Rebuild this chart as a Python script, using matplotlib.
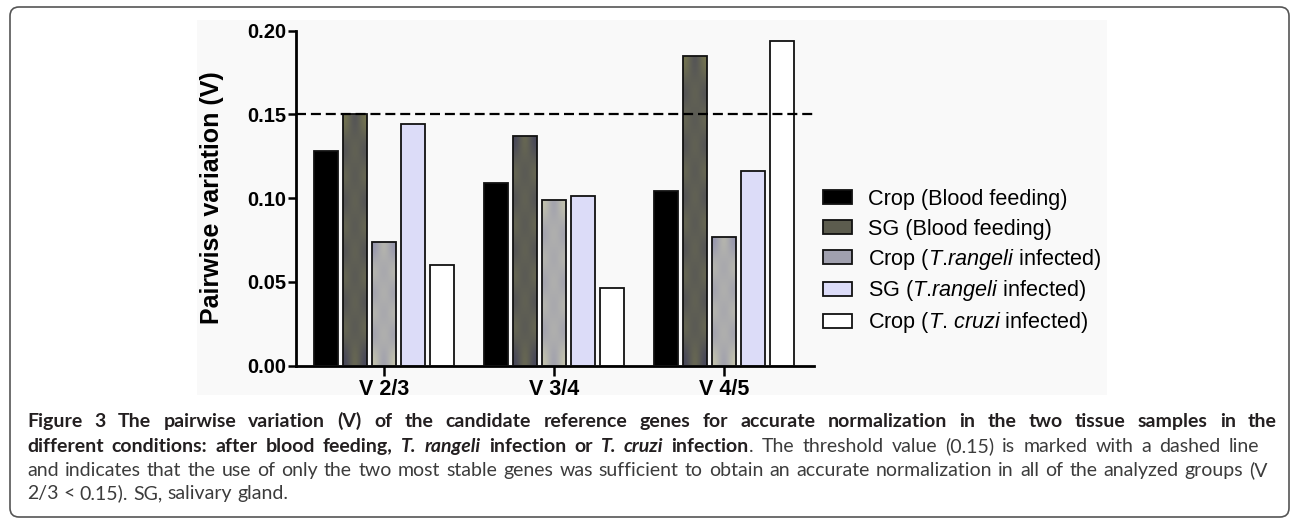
import numpy as np
import matplotlib
matplotlib.use("Agg")
import matplotlib.pyplot as plt
from matplotlib import font_manager
from matplotlib.patches import Patch, Rectangle, FancyBboxPatch
from matplotlib.transforms import IdentityTransform
from matplotlib.colors import LinearSegmentedColormap
from matplotlib.legend_handler import HandlerPatch

# data
groups = ["V 2/3", "V 3/4", "V 4/5"]
series = ["Crop (Blood feeding)", "SG (Blood feeding)",
          r"Crop ($\it{T}$.$\it{rangeli}$ infected)", r"SG ($\it{T}$.$\it{rangeli}$ infected)",
          r"Crop ($\it{T}$. $\it{cruzi}$ infected)"]
crop_blood = [0.128, 0.109, 0.104]
sg_blood = [0.150, 0.137, 0.185]
crop_rangeli = [0.074, 0.099, 0.077]
sg_rangeli = [0.144, 0.101, 0.116]
crop_cruzi = [0.060, 0.046, 0.194]
threshold = 0.15
yticks = [0.00, 0.05, 0.10, 0.15, 0.20]

plt.rcParams['font.family'] = ['Liberation Sans', 'DejaVu Sans']
plt.rcParams['mathtext.fontset'] = 'custom'
plt.rcParams['mathtext.rm'] = 'Liberation Sans'
plt.rcParams['mathtext.it'] = 'Liberation Sans:italic'

W, H = 1292, 520
fig = plt.figure(figsize=(W / 100, H / 100), dpi=100)

# faint grey backdrop behind the chart image and outer rounded frame
fig.patches.append(Rectangle((197 / W, 1 - 395 / H), (1107 - 197) / W, (395 - 20) / H,
                             transform=fig.transFigure, fc='#f9f9f9', ec='none', zorder=-5))
fig.patches.append(FancyBboxPatch((10, 3), 1279, 510, boxstyle='round,pad=0,rounding_size=9',
                                  transform=IdentityTransform(), fill=False, ec='#555555', lw=1.2))

ax = fig.add_axes([296 / W, 1 - 365.5 / H, 517.5 / W, 335 / H])
ax.set_facecolor('none')

values = [crop_blood, sg_blood, crop_rangeli, sg_rangeli, crop_cruzi]
faces = ['#000000', '#5c5c4e', '#a0a0ae', '#dcdcf8', '#ffffff']
textures = [None, ('#78784f', '#44445a'), ('#9292ae', '#c6c6ad'), None, None]
x = np.arange(len(groups))
pitch, width = 0.1706, 0.141

ax.set_xlim(-0.52, 2.524)
ax.set_ylim(0, 0.2)

for i, (vals, fc, tex) in enumerate(zip(values, faces, textures)):
    pos = x + (i - 2) * pitch
    bars = ax.bar(pos, vals, width, color=fc, edgecolor='none', zorder=2)
    if tex is not None:
        cmap = LinearSegmentedColormap.from_list('t%d' % i, list(tex))
        for b in bars:
            x0, y0, w, h = b.get_x(), b.get_y(), b.get_width(), b.get_height()
            hpx = h / 0.2 * 335
            ny = max(2, int(round(hpx / 27)) + 1)
            mid = (np.arange(ny) % 2).astype(float)
            arr = np.column_stack([1 - mid, mid, 1 - mid])
            im = ax.imshow(arr, extent=(x0, x0 + w, y0, y0 + h), cmap=cmap,
                           interpolation='bicubic', aspect='auto', zorder=2.5,
                           origin='lower', vmin=0, vmax=1)
            im.set_clip_path(b)
    ax.bar(pos, vals, width, fill=False, edgecolor='#111111', linewidth=1.3, zorder=3)

ax.set_xlim(-0.52, 2.524)
ax.set_ylim(0, 0.2)

ax.axhline(threshold, color='black', lw=1.6, ls=(0, (4.5, 2.2)), zorder=4)

for s in ['top', 'right']:
    ax.spines[s].set_visible(False)
for s in ['left', 'bottom']:
    ax.spines[s].set_linewidth(2.0)
ax.set_yticks(yticks)
ax.set_yticklabels(['%.2f' % v for v in yticks], fontsize=14.5, fontweight='bold')
ax.set_xticks(x)
ax.set_xticklabels(groups, fontsize=15.5, fontweight='bold')
ax.tick_params(axis='y', length=6, width=1.8, pad=1)
ax.tick_params(axis='x', length=7, width=1.8, pad=3)
ax.set_ylabel('Pairwise variation (V)', fontsize=18, fontweight='bold')
ax.yaxis.set_label_coords(-0.140, 0.5)

# legend keys: fixed 14 px tall box centred in a taller handle box so rows are even
key_h = 14 * 72 / 100.0


def key_patch(legend, orig_handle, xdescent, ydescent, width, height, fontsize):
    return Rectangle((-xdescent, -ydescent + (height - key_h) / 2), width, key_h)


handles = [Patch(facecolor=f, edgecolor='#111111', linewidth=1.3) for f in faces]
fs_leg = 15.6
leg = fig.legend(handles, series, loc='center left', bbox_to_anchor=(823 / W, 1 - 260 / H),
                 frameon=False, fontsize=fs_leg, handlelength=1.34, handleheight=1.4,
                 handletextpad=0.74, labelspacing=0.23, borderpad=0, borderaxespad=0,
                 handler_map={Patch: HandlerPatch(patch_func=key_patch)})

# caption
names = {f.name for f in font_manager.fontManager.ttflist}
styles = {
    'b': dict(fontweight='bold', fontstyle='normal', color='#231f20'),
    'bi': dict(fontweight='bold', fontstyle='italic', color='#231f20'),
    'r': dict(fontweight='normal', fontstyle='normal', color='#3c3c3c'),
}
caption = [
    [("Figure 3 The pairwise variation (V) of the candidate reference genes for accurate "
      "normalization in the two tissue samples in the", 'b')],
    [("different conditions: after blood feeding, ", 'b'), ("T. rangeli", 'bi'),
     (" infection or ", 'b'), ("T. cruzi", 'bi'), (" infection", 'b'),
     (". The threshold value (0.15) is marked with a dashed line", 'r')],
    [("and indicates that the use of only the two most stable genes was sufficient to obtain "
      "an accurate normalization in all of the analyzed groups (V", 'r')],
    [("2/3 < 0.15). SG, salivary gland.", 'r')],
]
line_ends = [1277, 1259, 1268, None]
baselines = [427, 452, 476, 499]
x_start = 27

renderer = fig.canvas.get_renderer()


def split_words(segs):
    words = [[]]
    for text, st in segs:
        parts = text.split(' ')
        for k, p in enumerate(parts):
            if k > 0:
                words.append([])
            if p:
                words[-1].append((p, st))
    return [w for w in words if w]


def measure(s, st, fs, fam):
    t = fig.text(0, 0, s, fontsize=fs, family=fam, **styles[st])
    wpx = t.get_window_extent(renderer).width
    t.remove()
    return wpx


def natural_width(words, fs, fam):
    sp = measure('x x', 'r', fs, fam) - measure('xx', 'r', fs, fam)
    tot = sum(measure(p, st, fs, fam) for w in words for p, st in w)
    return tot + sp * (len(words) - 1)


def fit_size(fam):
    fs = 14.0
    for segs, end in zip(caption, line_ends):
        if end is None:
            continue
        nw = natural_width(split_words(segs), 14.0, fam)
        fs = min(fs, 14.0 * (end - x_start) / nw * 0.985)
    return fs


cands = [f for f in ['Liberation Sans Narrow', 'Lato', 'Open Sans'] if f in names]
if not cands:
    cands = ['DejaVu Sans']
sizes = {f: fit_size(f) for f in cands}
cap_font = max(cands, key=lambda f: sizes[f])
fs_cap = sizes[cap_font]

space = measure('x x', 'r', fs_cap, cap_font) - measure('xx', 'r', fs_cap, cap_font)
for segs, end, base in zip(caption, line_ends, baselines):
    words = split_words(segs)
    wlens = [[measure(p, st, fs_cap, cap_font) for p, st in w] for w in words]
    total = sum(sum(l) for l in wlens)
    if end is not None and len(words) > 1:
        gap = (end - x_start - total) / (len(words) - 1)
    else:
        gap = space
    cx = x_start
    for w, lens in zip(words, wlens):
        for (p, st), l in zip(w, lens):
            fig.text(cx / W, 1 - base / H, p, fontsize=fs_cap, family=cap_font,
                     ha='left', va='baseline', **styles[st])
            cx += l
        cx += gap

fig.savefig('out.png', dpi=100)
